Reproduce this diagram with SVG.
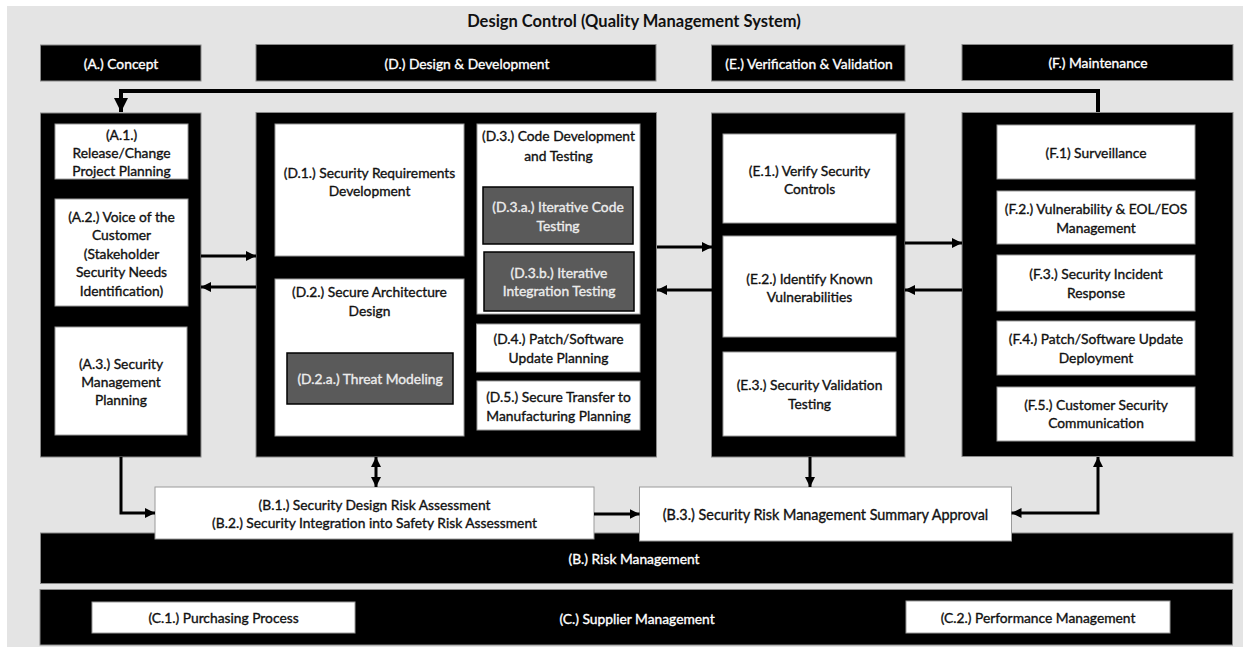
<svg xmlns="http://www.w3.org/2000/svg" width="1250" height="647" viewBox="0 0 1250 647">
<defs>
<style>
.bk{fill:#000;stroke:#8a8a8a;stroke-width:1}
.wh{fill:#fff;stroke:#9a9a9a;stroke-width:1}
.gr{fill:#5a5a5a;stroke:#000;stroke-width:1.5}
text{font-family:Lato,"Open Sans","Liberation Sans",sans-serif;font-size:13.8px;text-anchor:middle;dominant-baseline:central;stroke-width:0.35px;paint-order:stroke}
.tw{fill:#fff;stroke:#fff}
.tg{fill:#ececec;stroke:#ececec}
.tb{fill:#111;stroke:#111}
.title{font-weight:bold;font-size:16.5px;fill:#111;stroke:none}
.big{font-size:14.4px}
.ln{fill:none;stroke:#000;stroke-width:3}
</style>
<marker id="ah" markerUnits="userSpaceOnUse" viewBox="0 0 10 10" refX="10" refY="5" markerWidth="10" markerHeight="10" orient="auto-start-reverse">
<path d="M0,0 L10,5 L0,10 z" fill="#000"/>
</marker>
<marker id="ahb" markerUnits="userSpaceOnUse" viewBox="0 0 10 10" refX="10" refY="5" markerWidth="14" markerHeight="15" orient="auto">
<path d="M0,0 L10,5 L0,10 z" fill="#000"/>
</marker>
</defs>
<rect x="7" y="6" width="1236" height="641" fill="#e4e4e4"/>
<text class="title" x="634" y="21">Design Control (Quality Management System)</text>

<g id="hdrA"><rect class="bk" x="40.5" y="45" width="160.5" height="36"/><text class="tw" x="121" y="63">(A.) Concept</text></g>
<g id="hdrD"><rect class="bk" x="256" y="44.5" width="400" height="36.5"/><text class="tw" x="467" y="63">(D.) Design &amp; Development</text></g>
<g id="hdrE"><rect class="bk" x="711.5" y="45" width="193.5" height="36"/><text class="tw" x="809" y="63">(E.) Verification &amp; Validation</text></g>
<g id="hdrF"><rect class="bk" x="962" y="44.5" width="271" height="36"/><text class="tw" x="1098" y="62.5">(F.) Maintenance</text></g>

<g id="A">
<rect class="bk" x="40.5" y="113" width="160.5" height="344"/>
<g id="A1"><rect class="wh" x="55" y="124" width="133" height="55"/>
<text class="tb" x="121.5" y="134">(A.1.)</text><text class="tb" x="121.5" y="152">Release/Change</text><text class="tb" x="121.5" y="170">Project Planning</text></g>
<g id="A2"><rect class="wh" x="55" y="199" width="133" height="107"/>
<text class="tb" x="121.5" y="216">(A.2.) Voice of the</text><text class="tb" x="121.5" y="234.5">Customer</text><text class="tb" x="121.5" y="253">(Stakeholder</text><text class="tb" x="121.5" y="271.5">Security Needs</text><text class="tb" x="121.5" y="290">Identification)</text></g>
<g id="A3"><rect class="wh" x="55" y="327" width="132" height="108"/>
<text class="tb" x="121" y="363">(A.3.) Security</text><text class="tb" x="121" y="381">Management</text><text class="tb" x="121" y="399">Planning</text></g>
</g>

<g id="D">
<rect class="bk" x="256" y="112.5" width="400.5" height="344.5"/>
<g id="D1"><rect class="wh" x="275" y="124" width="189" height="132"/>
<text class="tb" x="369.5" y="172">(D.1.) Security Requirements</text><text class="tb" x="369.5" y="190">Development</text></g>
<g id="D2"><rect class="wh" x="275" y="279" width="189" height="157"/>
<text class="tb" x="369.5" y="291.5">(D.2.) Secure Architecture</text><text class="tb" x="369.5" y="310">Design</text>
<g id="D2a"><rect class="gr" x="287" y="353" width="166" height="51"/><text class="tg" x="370" y="378.5">(D.2.a.) Threat Modeling</text></g></g>
<g id="D3"><rect class="wh" x="477" y="124" width="163" height="190"/>
<text class="tb" x="558.5" y="135">(D.3.) Code Development</text><text class="tb" x="558.5" y="155">and Testing</text>
<g id="D3a"><rect class="gr" x="483" y="187" width="150" height="57"/><text class="tg" x="558" y="206.5">(D.3.a.) Iterative Code</text><text class="tg" x="558" y="225">Testing</text></g>
<g id="D3b"><rect class="gr" x="484" y="252" width="150" height="59"/><text class="tg" x="559" y="272">(D.3.b.) Iterative</text><text class="tg" x="559" y="290">Integration Testing</text></g></g>
<g id="D4"><rect class="wh" x="476.5" y="324" width="163.5" height="48"/>
<text class="tb" x="558.5" y="338.5">(D.4.) Patch/Software</text><text class="tb" x="558.5" y="357">Update Planning</text></g>
<g id="D5"><rect class="wh" x="477" y="381" width="163" height="49"/>
<text class="tb" x="558.5" y="396.5">(D.5.) Secure Transfer to</text><text class="tb" x="558.5" y="415.5">Manufacturing Planning</text></g>
</g>

<g id="E">
<rect class="bk" x="711.5" y="113" width="193.5" height="344"/>
<g id="E1"><rect class="wh" x="723" y="134" width="173" height="89"/>
<text class="tb" x="809.5" y="170">(E.1.) Verify Security</text><text class="tb" x="809.5" y="188">Controls</text></g>
<g id="E2"><rect class="wh" x="723" y="236" width="173" height="101"/>
<text class="tb" x="809.5" y="278">(E.2.) Identify Known</text><text class="tb" x="809.5" y="296.5">Vulnerabilities</text></g>
<g id="E3"><rect class="wh" x="723" y="352" width="173" height="84"/>
<text class="tb" x="809.5" y="384.5">(E.3.) Security Validation</text><text class="tb" x="809.5" y="403">Testing</text></g>
</g>

<g id="F">
<rect class="bk" x="962" y="112.5" width="271" height="344"/>
<g id="F1"><rect class="wh" x="997" y="125" width="198" height="54"/><text class="tb" x="1096" y="152.5">(F.1) Surveillance</text></g>
<g id="F2"><rect class="wh" x="997" y="191" width="198" height="53"/><text class="tb" x="1096" y="208.5">(F.2.) Vulnerability &amp; EOL/EOS</text><text class="tb" x="1096" y="227">Management</text></g>
<g id="F3"><rect class="wh" x="997" y="255" width="198" height="56"/><text class="tb" x="1096" y="273.5">(F.3.) Security Incident</text><text class="tb" x="1096" y="292">Response</text></g>
<g id="F4"><rect class="wh" x="997" y="321" width="198" height="54"/><text class="tb" x="1096" y="338.5">(F.4.) Patch/Software Update</text><text class="tb" x="1096" y="357">Deployment</text></g>
<g id="F5"><rect class="wh" x="997" y="387" width="198" height="54"/><text class="tb" x="1096" y="404">(F.5.) Customer Security</text><text class="tb" x="1096" y="422.5">Communication</text></g>
</g>

<g id="B">
<rect class="bk" x="40.5" y="533" width="1192.5" height="50.5"/>
<text class="tw" x="634" y="558">(B.) Risk Management</text>
</g>
<g id="B12"><rect class="wh" x="155" y="487" width="439" height="52"/>
<text class="tb" x="374.5" y="504.5">(B.1.) Security Design Risk Assessment</text><text class="tb" x="374.5" y="522.5">(B.2.) Security Integration into Safety Risk Assessment</text></g>
<g id="B3"><rect class="wh" x="639.5" y="487" width="372" height="54"/>
<text class="tb big" x="825.5" y="514">(B.3.) Security Risk Management Summary Approval</text></g>

<g id="C">
<rect class="bk" x="40" y="589.5" width="1192.5" height="55.5"/>
<text class="tw" x="637" y="618">(C.) Supplier Management</text>
<g id="C1"><rect class="wh" x="92" y="602" width="263" height="31"/><text class="tb" x="223.5" y="617.5">(C.1.) Purchasing Process</text></g>
<g id="C2"><rect class="wh" x="906" y="601" width="264" height="32"/><text class="tb" x="1038" y="617">(C.2.) Performance Management</text></g>
</g>

<g id="connectors">
<path d="M1098,112 V91 H121 V112" fill="none" stroke="#000" stroke-width="4" marker-end="url(#ahb)"/>
<line class="ln" x1="201" y1="256" x2="256" y2="256" marker-end="url(#ah)"/>
<line class="ln" x1="256" y1="287" x2="201" y2="287" marker-end="url(#ah)"/>
<line class="ln" x1="657" y1="247" x2="712" y2="247" marker-end="url(#ah)"/>
<line class="ln" x1="712" y1="290" x2="657" y2="290" marker-end="url(#ah)"/>
<line class="ln" x1="905" y1="243" x2="962" y2="243" marker-end="url(#ah)"/>
<line class="ln" x1="962" y1="290" x2="905" y2="290" marker-end="url(#ah)"/>
<path class="ln" d="M121,457 V513 H155" marker-end="url(#ah)"/>
<line class="ln" x1="376" y1="457" x2="376" y2="487" marker-start="url(#ah)" marker-end="url(#ah)"/>
<line class="ln" x1="594" y1="514" x2="639.5" y2="514" marker-end="url(#ah)"/>
<line class="ln" x1="810" y1="457" x2="810" y2="487" marker-end="url(#ah)"/>
<path class="ln" d="M1011.5,513 H1098 V457" marker-start="url(#ah)" marker-end="url(#ah)"/>
</g>
</svg>
